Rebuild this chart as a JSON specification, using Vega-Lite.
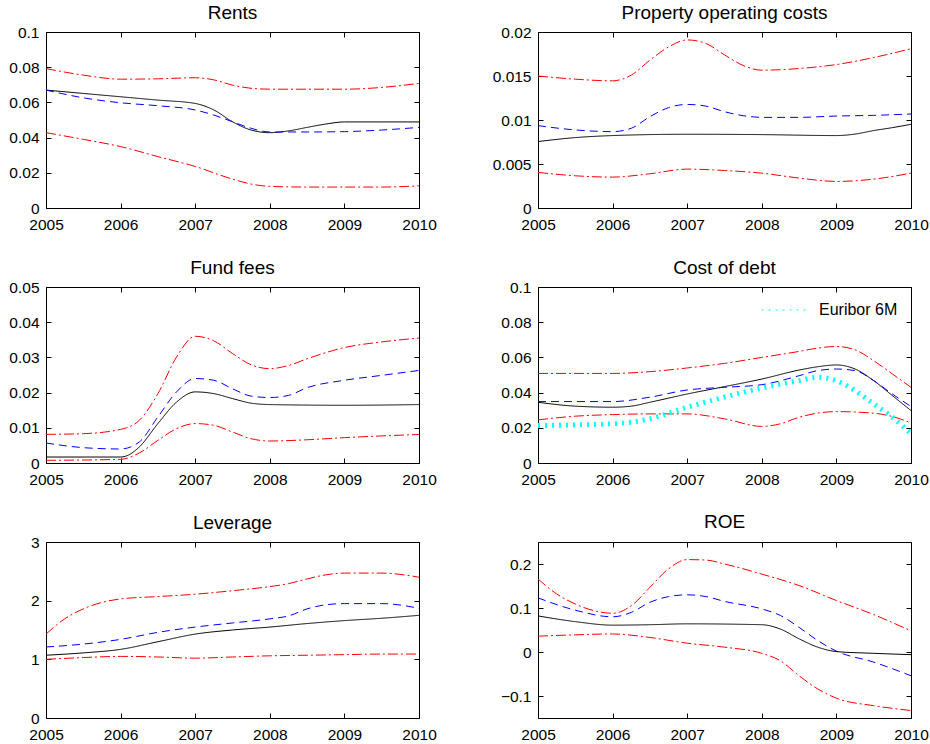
{
  "$schema": "https://vega.github.io/schema/vega-lite/v6.json",
  "background": "white",
  "padding": {"left": 8, "top": 3, "right": 0, "bottom": 0},
  "config": {
    "font": "Liberation Sans",
    "view": {"stroke": "black", "strokeWidth": 1},
    "axis": {"grid": false, "domain": false, "tickColor": "black", "tickSize": -5, "labelColor": "black", "labelFont": "Liberation Sans", "labelFontSize": 15.5, "labelPadding": 12, "labelFlush": false, "labelOverlap": false, "title": null},
    "axisX": {"labelPadding": 14},
    "title": {"font": "Liberation Sans", "fontSize": 19, "fontWeight": "normal", "color": "black", "offset": 2, "frame": "group"},
    "legend": {"labelFont": "Liberation Sans"},
    "line": {"strokeWidth": 1}
  },
  "datasets": {
    "rents": [
      {"x":2005,"y":0.0792,"s":"up"},{"x":2005.5,"y":0.0755,"s":"up"},{"x":2006,"y":0.0732,"s":"up"},{"x":2006.5,"y":0.0734,"s":"up"},{"x":2007,"y":0.074,"s":"up"},{"x":2007.25,"y":0.0728,"s":"up"},{"x":2007.5,"y":0.0698,"s":"up"},{"x":2007.75,"y":0.068,"s":"up"},{"x":2008,"y":0.0675,"s":"up"},{"x":2008.5,"y":0.0675,"s":"up"},{"x":2009,"y":0.0675,"s":"up"},{"x":2009.5,"y":0.0685,"s":"up"},{"x":2010,"y":0.0708,"s":"up"},
      {"x":2005,"y":0.067,"s":"act"},{"x":2005.5,"y":0.0651,"s":"act"},{"x":2006,"y":0.0632,"s":"act"},{"x":2006.5,"y":0.0613,"s":"act"},{"x":2007,"y":0.0594,"s":"act"},{"x":2007.25,"y":0.0557,"s":"act"},{"x":2007.5,"y":0.049,"s":"act"},{"x":2007.75,"y":0.0443,"s":"act"},{"x":2008,"y":0.0428,"s":"act"},{"x":2008.25,"y":0.0438,"s":"act"},{"x":2008.5,"y":0.0458,"s":"act"},{"x":2008.75,"y":0.0477,"s":"act"},{"x":2009,"y":0.0489,"s":"act"},{"x":2009.5,"y":0.0489,"s":"act"},{"x":2010,"y":0.0489,"s":"act"},
      {"x":2005,"y":0.067,"s":"mean"},{"x":2005.5,"y":0.0626,"s":"mean"},{"x":2006,"y":0.0598,"s":"mean"},{"x":2006.5,"y":0.0581,"s":"mean"},{"x":2007,"y":0.0557,"s":"mean"},{"x":2007.25,"y":0.0528,"s":"mean"},{"x":2007.5,"y":0.049,"s":"mean"},{"x":2007.75,"y":0.0453,"s":"mean"},{"x":2008,"y":0.0432,"s":"mean"},{"x":2008.5,"y":0.0432,"s":"mean"},{"x":2009,"y":0.0434,"s":"mean"},{"x":2009.5,"y":0.0443,"s":"mean"},{"x":2010,"y":0.0458,"s":"mean"},
      {"x":2005,"y":0.0428,"s":"lo"},{"x":2005.5,"y":0.039,"s":"lo"},{"x":2006,"y":0.0349,"s":"lo"},{"x":2006.5,"y":0.0292,"s":"lo"},{"x":2007,"y":0.0236,"s":"lo"},{"x":2007.5,"y":0.0164,"s":"lo"},{"x":2007.75,"y":0.0136,"s":"lo"},{"x":2008,"y":0.0123,"s":"lo"},{"x":2008.5,"y":0.0119,"s":"lo"},{"x":2009,"y":0.0119,"s":"lo"},{"x":2009.5,"y":0.0119,"s":"lo"},{"x":2010,"y":0.0126,"s":"lo"}
    ],
    "prop": [
      {"x":2005,"y":0.015,"s":"up"},{"x":2005.5,"y":0.01464,"s":"up"},{"x":2006,"y":0.01445,"s":"up"},{"x":2006.25,"y":0.0151,"s":"up"},{"x":2006.5,"y":0.0168,"s":"up"},{"x":2006.75,"y":0.0183,"s":"up"},{"x":2007,"y":0.0191,"s":"up"},{"x":2007.25,"y":0.0187,"s":"up"},{"x":2007.5,"y":0.0174,"s":"up"},{"x":2007.75,"y":0.0162,"s":"up"},{"x":2008,"y":0.01566,"s":"up"},{"x":2008.5,"y":0.01585,"s":"up"},{"x":2009,"y":0.0163,"s":"up"},{"x":2009.5,"y":0.0171,"s":"up"},{"x":2010,"y":0.0181,"s":"up"},
      {"x":2005,"y":0.00936,"s":"mean"},{"x":2005.5,"y":0.00887,"s":"mean"},{"x":2006,"y":0.00868,"s":"mean"},{"x":2006.25,"y":0.00906,"s":"mean"},{"x":2006.5,"y":0.01038,"s":"mean"},{"x":2006.75,"y":0.0114,"s":"mean"},{"x":2007,"y":0.01177,"s":"mean"},{"x":2007.25,"y":0.01158,"s":"mean"},{"x":2007.5,"y":0.01094,"s":"mean"},{"x":2007.75,"y":0.01049,"s":"mean"},{"x":2008,"y":0.0103,"s":"mean"},{"x":2008.5,"y":0.0103,"s":"mean"},{"x":2009,"y":0.01045,"s":"mean"},{"x":2009.5,"y":0.01053,"s":"mean"},{"x":2010,"y":0.01068,"s":"mean"},
      {"x":2005,"y":0.00755,"s":"act"},{"x":2005.5,"y":0.008,"s":"act"},{"x":2006,"y":0.00823,"s":"act"},{"x":2007,"y":0.00838,"s":"act"},{"x":2008,"y":0.00834,"s":"act"},{"x":2009,"y":0.00823,"s":"act"},{"x":2009.25,"y":0.0084,"s":"act"},{"x":2009.5,"y":0.0088,"s":"act"},{"x":2009.75,"y":0.00913,"s":"act"},{"x":2010,"y":0.00951,"s":"act"},
      {"x":2005,"y":0.00404,"s":"lo"},{"x":2005.5,"y":0.00366,"s":"lo"},{"x":2006,"y":0.00351,"s":"lo"},{"x":2006.5,"y":0.00389,"s":"lo"},{"x":2007,"y":0.00442,"s":"lo"},{"x":2007.5,"y":0.00426,"s":"lo"},{"x":2008,"y":0.00396,"s":"lo"},{"x":2008.5,"y":0.0034,"s":"lo"},{"x":2009,"y":0.00302,"s":"lo"},{"x":2009.5,"y":0.00328,"s":"lo"},{"x":2010,"y":0.00396,"s":"lo"}
    ],
    "fund": [
      {"x":2005,"y":0.00814,"s":"up"},{"x":2005.5,"y":0.00833,"s":"up"},{"x":2006,"y":0.00956,"s":"up"},{"x":2006.25,"y":0.0121,"s":"up"},{"x":2006.5,"y":0.0197,"s":"up"},{"x":2006.75,"y":0.0301,"s":"up"},{"x":2007,"y":0.036,"s":"up"},{"x":2007.25,"y":0.0347,"s":"up"},{"x":2007.5,"y":0.0311,"s":"up"},{"x":2007.75,"y":0.0279,"s":"up"},{"x":2008,"y":0.0268,"s":"up"},{"x":2008.25,"y":0.0277,"s":"up"},{"x":2008.5,"y":0.0296,"s":"up"},{"x":2009,"y":0.0328,"s":"up"},{"x":2009.5,"y":0.0344,"s":"up"},{"x":2010,"y":0.0355,"s":"up"},
      {"x":2005,"y":0.00568,"s":"mean"},{"x":2005.5,"y":0.00436,"s":"mean"},{"x":2006,"y":0.00398,"s":"mean"},{"x":2006.25,"y":0.00597,"s":"mean"},{"x":2006.5,"y":0.0131,"s":"mean"},{"x":2006.75,"y":0.0202,"s":"mean"},{"x":2007,"y":0.024,"s":"mean"},{"x":2007.25,"y":0.0235,"s":"mean"},{"x":2007.5,"y":0.0211,"s":"mean"},{"x":2007.75,"y":0.019,"s":"mean"},{"x":2008,"y":0.0186,"s":"mean"},{"x":2008.25,"y":0.0192,"s":"mean"},{"x":2008.5,"y":0.0214,"s":"mean"},{"x":2009,"y":0.0235,"s":"mean"},{"x":2009.5,"y":0.0249,"s":"mean"},{"x":2010,"y":0.0263,"s":"mean"},
      {"x":2005,"y":0.0017,"s":"act"},{"x":2006,"y":0.0017,"s":"act"},{"x":2006.1,"y":0.0022,"s":"act"},{"x":2006.25,"y":0.00455,"s":"act"},{"x":2006.5,"y":0.0112,"s":"act"},{"x":2006.75,"y":0.0173,"s":"act"},{"x":2007,"y":0.0202,"s":"act"},{"x":2007.25,"y":0.0197,"s":"act"},{"x":2007.5,"y":0.0183,"s":"act"},{"x":2007.75,"y":0.017,"s":"act"},{"x":2008,"y":0.0166,"s":"act"},{"x":2009,"y":0.0164,"s":"act"},{"x":2010,"y":0.0166,"s":"act"},
      {"x":2005,"y":0.00076,"s":"lo"},{"x":2006,"y":0.00104,"s":"lo"},{"x":2006.25,"y":0.00284,"s":"lo"},{"x":2006.5,"y":0.00644,"s":"lo"},{"x":2006.75,"y":0.00975,"s":"lo"},{"x":2007,"y":0.0112,"s":"lo"},{"x":2007.25,"y":0.0107,"s":"lo"},{"x":2007.5,"y":0.0088,"s":"lo"},{"x":2007.75,"y":0.0069,"s":"lo"},{"x":2008,"y":0.00625,"s":"lo"},{"x":2008.5,"y":0.0066,"s":"lo"},{"x":2009,"y":0.0072,"s":"lo"},{"x":2009.5,"y":0.0077,"s":"lo"},{"x":2010,"y":0.0081,"s":"lo"}
    ],
    "debt": [
      {"x":2005,"y":0.0509,"s":"up"},{"x":2006,"y":0.0509,"s":"up"},{"x":2006.5,"y":0.0519,"s":"up"},{"x":2007,"y":0.054,"s":"up"},{"x":2007.5,"y":0.0566,"s":"up"},{"x":2008,"y":0.06,"s":"up"},{"x":2008.5,"y":0.0634,"s":"up"},{"x":2008.75,"y":0.0653,"s":"up"},{"x":2009,"y":0.0662,"s":"up"},{"x":2009.25,"y":0.0643,"s":"up"},{"x":2009.5,"y":0.0581,"s":"up"},{"x":2009.75,"y":0.0506,"s":"up"},{"x":2010,"y":0.043,"s":"up"},
      {"x":2005,"y":0.0345,"s":"act"},{"x":2005.5,"y":0.0323,"s":"act"},{"x":2006,"y":0.0317,"s":"act"},{"x":2006.25,"y":0.0323,"s":"act"},{"x":2006.5,"y":0.0345,"s":"act"},{"x":2007,"y":0.0392,"s":"act"},{"x":2007.5,"y":0.0434,"s":"act"},{"x":2008,"y":0.0477,"s":"act"},{"x":2008.5,"y":0.0528,"s":"act"},{"x":2008.75,"y":0.0547,"s":"act"},{"x":2009,"y":0.0557,"s":"act"},{"x":2009.25,"y":0.0534,"s":"act"},{"x":2009.5,"y":0.0468,"s":"act"},{"x":2009.75,"y":0.0383,"s":"act"},{"x":2010,"y":0.0298,"s":"act"},
      {"x":2005,"y":0.0349,"s":"mean"},{"x":2006,"y":0.0349,"s":"mean"},{"x":2006.5,"y":0.0374,"s":"mean"},{"x":2007,"y":0.0415,"s":"mean"},{"x":2007.5,"y":0.043,"s":"mean"},{"x":2008,"y":0.0445,"s":"mean"},{"x":2008.5,"y":0.0496,"s":"mean"},{"x":2008.75,"y":0.0525,"s":"mean"},{"x":2009,"y":0.0534,"s":"mean"},{"x":2009.25,"y":0.0525,"s":"mean"},{"x":2009.5,"y":0.0468,"s":"mean"},{"x":2009.75,"y":0.0392,"s":"mean"},{"x":2010,"y":0.0321,"s":"mean"},
      {"x":2005,"y":0.0245,"s":"lo"},{"x":2005.5,"y":0.0266,"s":"lo"},{"x":2006,"y":0.0275,"s":"lo"},{"x":2006.5,"y":0.0279,"s":"lo"},{"x":2007,"y":0.0279,"s":"lo"},{"x":2007.5,"y":0.0251,"s":"lo"},{"x":2008,"y":0.0208,"s":"lo"},{"x":2008.25,"y":0.0223,"s":"lo"},{"x":2008.5,"y":0.026,"s":"lo"},{"x":2009,"y":0.0292,"s":"lo"},{"x":2009.5,"y":0.0283,"s":"lo"},{"x":2009.75,"y":0.0264,"s":"lo"},{"x":2010,"y":0.0228,"s":"lo"},
      {"x":2005,"y":0.0213,"s":"Euribor 6M"},{"x":2006,"y":0.0223,"s":"Euribor 6M"},{"x":2006.5,"y":0.0251,"s":"Euribor 6M"},{"x":2007,"y":0.0317,"s":"Euribor 6M"},{"x":2007.5,"y":0.0374,"s":"Euribor 6M"},{"x":2008,"y":0.0426,"s":"Euribor 6M"},{"x":2008.5,"y":0.0468,"s":"Euribor 6M"},{"x":2008.75,"y":0.0487,"s":"Euribor 6M"},{"x":2009,"y":0.0468,"s":"Euribor 6M"},{"x":2009.25,"y":0.0411,"s":"Euribor 6M"},{"x":2009.5,"y":0.0336,"s":"Euribor 6M"},{"x":2009.75,"y":0.026,"s":"Euribor 6M"},{"x":2010,"y":0.0166,"s":"Euribor 6M"}
    ],
    "lev": [
      {"x":2005,"y":1.43,"s":"up"},{"x":2005.25,"y":1.69,"s":"up"},{"x":2005.5,"y":1.86,"s":"up"},{"x":2005.75,"y":1.97,"s":"up"},{"x":2006,"y":2.03,"s":"up"},{"x":2006.5,"y":2.07,"s":"up"},{"x":2007,"y":2.11,"s":"up"},{"x":2007.5,"y":2.17,"s":"up"},{"x":2008,"y":2.24,"s":"up"},{"x":2008.25,"y":2.29,"s":"up"},{"x":2008.5,"y":2.37,"s":"up"},{"x":2008.75,"y":2.44,"s":"up"},{"x":2009,"y":2.47,"s":"up"},{"x":2009.5,"y":2.47,"s":"up"},{"x":2010,"y":2.4,"s":"up"},
      {"x":2005,"y":1.21,"s":"mean"},{"x":2005.5,"y":1.26,"s":"mean"},{"x":2006,"y":1.34,"s":"mean"},{"x":2006.5,"y":1.46,"s":"mean"},{"x":2007,"y":1.55,"s":"mean"},{"x":2007.5,"y":1.62,"s":"mean"},{"x":2008,"y":1.69,"s":"mean"},{"x":2008.25,"y":1.74,"s":"mean"},{"x":2008.5,"y":1.86,"s":"mean"},{"x":2008.75,"y":1.93,"s":"mean"},{"x":2009,"y":1.95,"s":"mean"},{"x":2009.5,"y":1.95,"s":"mean"},{"x":2010,"y":1.87,"s":"mean"},
      {"x":2005,"y":1.07,"s":"act"},{"x":2005.5,"y":1.11,"s":"act"},{"x":2006,"y":1.17,"s":"act"},{"x":2006.5,"y":1.3,"s":"act"},{"x":2007,"y":1.43,"s":"act"},{"x":2007.5,"y":1.5,"s":"act"},{"x":2008,"y":1.55,"s":"act"},{"x":2008.5,"y":1.61,"s":"act"},{"x":2009,"y":1.66,"s":"act"},{"x":2009.5,"y":1.7,"s":"act"},{"x":2010,"y":1.75,"s":"act"},
      {"x":2005,"y":1.0,"s":"lo"},{"x":2005.5,"y":1.03,"s":"lo"},{"x":2006,"y":1.05,"s":"lo"},{"x":2006.5,"y":1.04,"s":"lo"},{"x":2007,"y":1.02,"s":"lo"},{"x":2007.5,"y":1.04,"s":"lo"},{"x":2008,"y":1.06,"s":"lo"},{"x":2008.5,"y":1.07,"s":"lo"},{"x":2009,"y":1.08,"s":"lo"},{"x":2009.5,"y":1.09,"s":"lo"},{"x":2010,"y":1.09,"s":"lo"}
    ],
    "roe": [
      {"x":2005,"y":0.166,"s":"up"},{"x":2005.25,"y":0.132,"s":"up"},{"x":2005.5,"y":0.109,"s":"up"},{"x":2005.75,"y":0.094,"s":"up"},{"x":2006,"y":0.088,"s":"up"},{"x":2006.25,"y":0.105,"s":"up"},{"x":2006.5,"y":0.147,"s":"up"},{"x":2006.75,"y":0.189,"s":"up"},{"x":2007,"y":0.21,"s":"up"},{"x":2007.25,"y":0.209,"s":"up"},{"x":2007.5,"y":0.2,"s":"up"},{"x":2008,"y":0.177,"s":"up"},{"x":2008.5,"y":0.151,"s":"up"},{"x":2009,"y":0.117,"s":"up"},{"x":2009.5,"y":0.085,"s":"up"},{"x":2010,"y":0.048,"s":"up"},
      {"x":2005,"y":0.123,"s":"mean"},{"x":2005.5,"y":0.095,"s":"mean"},{"x":2006,"y":0.08,"s":"mean"},{"x":2006.25,"y":0.09,"s":"mean"},{"x":2006.5,"y":0.113,"s":"mean"},{"x":2006.75,"y":0.126,"s":"mean"},{"x":2007,"y":0.13,"s":"mean"},{"x":2007.25,"y":0.126,"s":"mean"},{"x":2007.5,"y":0.115,"s":"mean"},{"x":2008,"y":0.098,"s":"mean"},{"x":2008.25,"y":0.083,"s":"mean"},{"x":2008.5,"y":0.056,"s":"mean"},{"x":2008.75,"y":0.026,"s":"mean"},{"x":2009,"y":0.002,"s":"mean"},{"x":2009.5,"y":-0.023,"s":"mean"},{"x":2010,"y":-0.054,"s":"mean"},
      {"x":2005,"y":0.082,"s":"act"},{"x":2005.5,"y":0.069,"s":"act"},{"x":2006,"y":0.061,"s":"act"},{"x":2006.5,"y":0.062,"s":"act"},{"x":2007,"y":0.064,"s":"act"},{"x":2008,"y":0.062,"s":"act"},{"x":2008.25,"y":0.052,"s":"act"},{"x":2008.5,"y":0.03,"s":"act"},{"x":2008.75,"y":0.011,"s":"act"},{"x":2009,"y":0.001,"s":"act"},{"x":2009.5,"y":-0.003,"s":"act"},{"x":2010,"y":-0.006,"s":"act"},
      {"x":2005,"y":0.036,"s":"lo"},{"x":2005.5,"y":0.039,"s":"lo"},{"x":2006,"y":0.041,"s":"lo"},{"x":2006.5,"y":0.033,"s":"lo"},{"x":2007,"y":0.02,"s":"lo"},{"x":2007.5,"y":0.011,"s":"lo"},{"x":2008,"y":-0.003,"s":"lo"},{"x":2008.25,"y":-0.02,"s":"lo"},{"x":2008.5,"y":-0.054,"s":"lo"},{"x":2008.75,"y":-0.084,"s":"lo"},{"x":2009,"y":-0.105,"s":"lo"},{"x":2009.5,"y":-0.122,"s":"lo"},{"x":2010,"y":-0.133,"s":"lo"}
    ]
  },
  "columns": 2,
  "bounds": "flush",
  "spacing": {"column": 119, "row": 79},
  "resolve": {"scale": {"stroke": "independent", "color": "independent", "strokeDash": "independent"}, "legend": {"stroke": "independent", "color": "independent", "strokeDash": "independent"}},
  "concat": [
    {
      "title": "Rents", "width": 373, "height": 176, "data": {"name": "rents"},
      "layer": [
        {"mark": {"type": "line", "interpolate": "monotone"},
         "encoding": {
           "x": {"field": "x", "type": "quantitative", "scale": {"domain": [2005, 2010], "nice": false, "zero": false}, "axis": {"values": [2005, 2006, 2007, 2008, 2009, 2010], "format": "d"}},
           "y": {"field": "y", "type": "quantitative", "scale": {"domain": [0, 0.1], "nice": false}, "axis": {"values": [0, 0.02, 0.04, 0.06, 0.08, 0.1], "format": "~g"}},
           "color": {"field": "s", "type": "nominal", "scale": {"domain": ["act", "mean", "up", "lo"], "range": ["#000000", "#0000ff", "#ff0000", "#ff0000"]}, "legend": null},
           "strokeDash": {"field": "s", "type": "nominal", "scale": {"domain": ["act", "mean", "up", "lo"], "range": [[1, 0], [8, 5], [10, 3, 2, 3], [10, 3, 2, 3]]}, "legend": null}
         }},
        {"mark": {"type": "line", "strokeOpacity": 0},
         "encoding": {
           "x": {"field": "x", "type": "quantitative", "axis": {"orient": "top", "labels": false, "values": [2005, 2006, 2007, 2008, 2009, 2010]}},
           "y": {"field": "y", "type": "quantitative", "axis": {"orient": "right", "labels": false, "values": [0, 0.02, 0.04, 0.06, 0.08, 0.1]}},
           "detail": {"field": "s", "type": "nominal"}
         }}
      ],
      "resolve": {"axis": {"x": "independent", "y": "independent"}}
    },
    {
      "title": "Property operating costs", "width": 373, "height": 176, "data": {"name": "prop"},
      "layer": [
        {"mark": {"type": "line", "interpolate": "monotone"},
         "encoding": {
           "x": {"field": "x", "type": "quantitative", "scale": {"domain": [2005, 2010], "nice": false, "zero": false}, "axis": {"values": [2005, 2006, 2007, 2008, 2009, 2010], "format": "d"}},
           "y": {"field": "y", "type": "quantitative", "scale": {"domain": [0, 0.02], "nice": false}, "axis": {"values": [0, 0.005, 0.01, 0.015, 0.02], "format": "~g"}},
           "color": {"field": "s", "type": "nominal", "scale": {"domain": ["act", "mean", "up", "lo"], "range": ["#000000", "#0000ff", "#ff0000", "#ff0000"]}, "legend": null},
           "strokeDash": {"field": "s", "type": "nominal", "scale": {"domain": ["act", "mean", "up", "lo"], "range": [[1, 0], [8, 5], [10, 3, 2, 3], [10, 3, 2, 3]]}, "legend": null}
         }},
        {"mark": {"type": "line", "strokeOpacity": 0},
         "encoding": {
           "x": {"field": "x", "type": "quantitative", "axis": {"orient": "top", "labels": false, "values": [2005, 2006, 2007, 2008, 2009, 2010]}},
           "y": {"field": "y", "type": "quantitative", "axis": {"orient": "right", "labels": false, "values": [0, 0.005, 0.01, 0.015, 0.02]}},
           "detail": {"field": "s", "type": "nominal"}
         }}
      ],
      "resolve": {"axis": {"x": "independent", "y": "independent"}}
    },
    {
      "title": "Fund fees", "width": 373, "height": 176, "data": {"name": "fund"},
      "layer": [
        {"mark": {"type": "line", "interpolate": "monotone"},
         "encoding": {
           "x": {"field": "x", "type": "quantitative", "scale": {"domain": [2005, 2010], "nice": false, "zero": false}, "axis": {"values": [2005, 2006, 2007, 2008, 2009, 2010], "format": "d"}},
           "y": {"field": "y", "type": "quantitative", "scale": {"domain": [0, 0.05], "nice": false}, "axis": {"values": [0, 0.01, 0.02, 0.03, 0.04, 0.05], "format": "~g"}},
           "color": {"field": "s", "type": "nominal", "scale": {"domain": ["act", "mean", "up", "lo"], "range": ["#000000", "#0000ff", "#ff0000", "#ff0000"]}, "legend": null},
           "strokeDash": {"field": "s", "type": "nominal", "scale": {"domain": ["act", "mean", "up", "lo"], "range": [[1, 0], [8, 5], [10, 3, 2, 3], [10, 3, 2, 3]]}, "legend": null}
         }},
        {"mark": {"type": "line", "strokeOpacity": 0},
         "encoding": {
           "x": {"field": "x", "type": "quantitative", "axis": {"orient": "top", "labels": false, "values": [2005, 2006, 2007, 2008, 2009, 2010]}},
           "y": {"field": "y", "type": "quantitative", "axis": {"orient": "right", "labels": false, "values": [0, 0.01, 0.02, 0.03, 0.04, 0.05]}},
           "detail": {"field": "s", "type": "nominal"}
         }}
      ],
      "resolve": {"axis": {"x": "independent", "y": "independent"}}
    },
    {
      "title": "Cost of debt", "width": 373, "height": 176, "data": {"name": "debt"},
      "layer": [
        {"transform": [{"filter": "datum.s !== 'Euribor 6M'"}],
         "mark": {"type": "line", "interpolate": "monotone"},
         "encoding": {
           "x": {"field": "x", "type": "quantitative", "scale": {"domain": [2005, 2010], "nice": false, "zero": false}, "axis": {"values": [2005, 2006, 2007, 2008, 2009, 2010], "format": "d"}},
           "y": {"field": "y", "type": "quantitative", "scale": {"domain": [0, 0.1], "nice": false}, "axis": {"values": [0, 0.02, 0.04, 0.06, 0.08, 0.1], "format": "~g"}},
           "color": {"field": "s", "type": "nominal", "scale": {"domain": ["act", "mean", "up", "lo"], "range": ["#000000", "#0000ff", "#ff0000", "#ff0000"]}, "legend": null},
           "strokeDash": {"field": "s", "type": "nominal", "scale": {"domain": ["act", "mean", "up", "lo"], "range": [[1, 0], [8, 5], [10, 3, 2, 3], [10, 3, 2, 3]]}, "legend": null}
         }},
        {"transform": [{"filter": "datum.s === 'Euribor 6M'"}],
         "mark": {"type": "line", "interpolate": "monotone", "strokeWidth": 5, "strokeDash": [2, 5]},
         "encoding": {
           "x": {"field": "x", "type": "quantitative", "axis": null},
           "y": {"field": "y", "type": "quantitative", "axis": null},
           "stroke": {"field": "s", "type": "nominal", "scale": {"domain": ["Euribor 6M"], "range": ["#00ffff"]},
                      "legend": {"title": null, "orient": "none", "legendX": 223, "legendY": -1, "padding": 0, "symbolType": "stroke", "symbolSize": 2200, "symbolStrokeWidth": 5, "symbolDash": [2, 5], "labelFontSize": 16, "labelColor": "black", "labelOffset": 10}}
         }},
        {"mark": {"type": "line", "strokeOpacity": 0},
         "encoding": {
           "x": {"field": "x", "type": "quantitative", "axis": {"orient": "top", "labels": false, "values": [2005, 2006, 2007, 2008, 2009, 2010]}},
           "y": {"field": "y", "type": "quantitative", "axis": {"orient": "right", "labels": false, "values": [0, 0.02, 0.04, 0.06, 0.08, 0.1]}},
           "detail": {"field": "s", "type": "nominal"}
         }}
      ],
      "resolve": {"axis": {"x": "independent", "y": "independent"}}
    },
    {
      "title": "Leverage", "width": 373, "height": 176, "data": {"name": "lev"},
      "layer": [
        {"mark": {"type": "line", "interpolate": "monotone"},
         "encoding": {
           "x": {"field": "x", "type": "quantitative", "scale": {"domain": [2005, 2010], "nice": false, "zero": false}, "axis": {"values": [2005, 2006, 2007, 2008, 2009, 2010], "format": "d"}},
           "y": {"field": "y", "type": "quantitative", "scale": {"domain": [0, 3], "nice": false}, "axis": {"values": [0, 1, 2, 3], "format": "~g"}},
           "color": {"field": "s", "type": "nominal", "scale": {"domain": ["act", "mean", "up", "lo"], "range": ["#000000", "#0000ff", "#ff0000", "#ff0000"]}, "legend": null},
           "strokeDash": {"field": "s", "type": "nominal", "scale": {"domain": ["act", "mean", "up", "lo"], "range": [[1, 0], [8, 5], [10, 3, 2, 3], [10, 3, 2, 3]]}, "legend": null}
         }},
        {"mark": {"type": "line", "strokeOpacity": 0},
         "encoding": {
           "x": {"field": "x", "type": "quantitative", "axis": {"orient": "top", "labels": false, "values": [2005, 2006, 2007, 2008, 2009, 2010]}},
           "y": {"field": "y", "type": "quantitative", "axis": {"orient": "right", "labels": false, "values": [0, 1, 2, 3]}},
           "detail": {"field": "s", "type": "nominal"}
         }}
      ],
      "resolve": {"axis": {"x": "independent", "y": "independent"}}
    },
    {
      "title": {"text": "ROE", "offset": 10}, "width": 373, "height": 176, "data": {"name": "roe"},
      "layer": [
        {"mark": {"type": "line", "interpolate": "monotone"},
         "encoding": {
           "x": {"field": "x", "type": "quantitative", "scale": {"domain": [2005, 2010], "nice": false, "zero": false}, "axis": {"values": [2005, 2006, 2007, 2008, 2009, 2010], "format": "d"}},
           "y": {"field": "y", "type": "quantitative", "scale": {"domain": [-0.15, 0.25], "nice": false, "zero": false}, "axis": {"values": [-0.1, 0, 0.1, 0.2], "format": "~g"}},
           "color": {"field": "s", "type": "nominal", "scale": {"domain": ["act", "mean", "up", "lo"], "range": ["#000000", "#0000ff", "#ff0000", "#ff0000"]}, "legend": null},
           "strokeDash": {"field": "s", "type": "nominal", "scale": {"domain": ["act", "mean", "up", "lo"], "range": [[1, 0], [8, 5], [10, 3, 2, 3], [10, 3, 2, 3]]}, "legend": null}
         }},
        {"mark": {"type": "line", "strokeOpacity": 0},
         "encoding": {
           "x": {"field": "x", "type": "quantitative", "axis": {"orient": "top", "labels": false, "values": [2005, 2006, 2007, 2008, 2009, 2010]}},
           "y": {"field": "y", "type": "quantitative", "axis": {"orient": "right", "labels": false, "values": [-0.1, 0, 0.1, 0.2]}},
           "detail": {"field": "s", "type": "nominal"}
         }}
      ],
      "resolve": {"axis": {"x": "independent", "y": "independent"}}
    }
  ]
}
